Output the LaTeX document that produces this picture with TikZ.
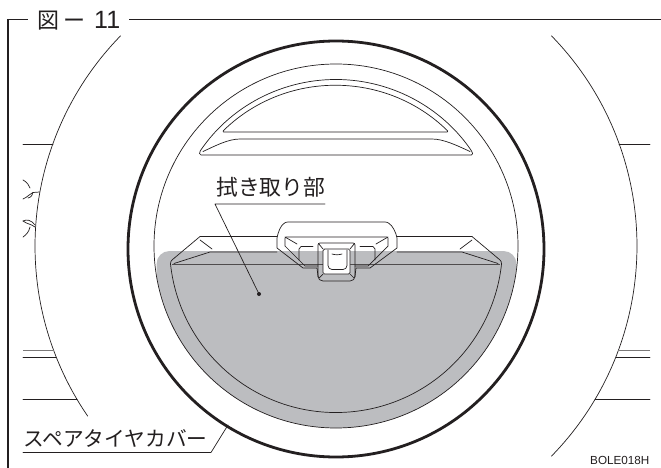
\documentclass[tikz,border=0pt]{standalone}
\usepackage{fontspec}
\setmainfont{Liberation Sans}
\newfontfamily\cjk{Noto Sans CJK JP}
\definecolor{ink}{HTML}{231F20}
\definecolor{wipe}{HTML}{BCBDC0}
\tikzset{
  thin line/.style={draw=ink,line width=.7pt,line join=round,line cap=round},
  thick ring/.style={draw=ink,line width=2.8pt},
  frame line/.style={draw=ink,line width=1.1pt},
  lab/.style={inner sep=0pt,anchor=base west,text=ink},
}
\begin{document}
\begin{tikzpicture}[x=1pt,y=1pt]
\useasboundingbox (0,0) rectangle (661,-468);
\fill[white] (0,0) rectangle (661,-468);
% frame and title
\draw[frame line] (8,-468) -- (8,-19.5) -- (28,-19.5);
\draw[frame line] (129,-19.5) -- (661,-19.5);
\node[lab] (title) at (37,-29) {\fontsize{22}{22}\selectfont\cjk 図\kern4pt ー\kern9pt\fontsize{25}{25}\selectfont\rmfamily 11};
% outer tyre arcs
\coordinate (C) at (336,-246);
\draw[thin line] (C) ++(135.7:301pt) arc[start angle=135.7,end angle=214.4,radius=301pt];
\draw[thin line] (C) ++(44.3:301pt) arc[start angle=44.3,end angle=-44.3,radius=301pt];
% stubs
\draw[thin line] (23,-144) -- (53,-144);
\draw[thin line] (619,-144) -- (650,-144);
\draw[draw=ink!60,line width=1.2pt] (23,-350.5) -- (54,-350.5);
\draw[draw=ink!60,line width=1.2pt] (618,-350.5) -- (650,-350.5);
\draw[thin line] (23,-357) -- (56,-357);
\draw[thin line] (616,-357) -- (650,-357);
\draw[thin line] (23,-399.5) -- (77,-399.5);
\draw[thin line] (595,-399.5) -- (650,-399.5);
% small marks on the left
\draw[thin line] (23,-180) .. controls (27,-182) and (29,-185) .. (30,-188);
\draw[thin line] (39.5,-192) -- (33,-192.5) .. controls (29,-194) and (28,-197) .. (23,-199);
\draw[thin line] (33,-192.5) .. controls (32,-195) and (32,-197) .. (28,-198);
\draw[thin line] (23,-221) .. controls (27,-219) and (31,-220) .. (35,-225);
\draw[thin line] (23,-221) .. controls (27,-224) and (31,-224) .. (35,-227);
\draw[thin line] (23,-237) .. controls (26,-235) and (29,-232) .. (30,-227);
% grey wipe area
\begin{scope}
\clip (336,-246) circle[radius=182pt];
\fill[wipe,rounded corners=13pt] (156.5,-251) rectangle (516.5,-440);
\end{scope}
% wheel
\draw[thick ring] (336,-249) circle[radius=208pt];
\draw[thin line] (336,-246) circle[radius=182pt];
% upper handle
\draw[thin line,rounded corners=1.5pt] (222,-132) arc[start angle=134.6,end angle=45.4,radius=161.5pt] -- cycle;
\draw[thin line,rounded corners=1.5pt] (199.5,-155) -- (199.5,-152) arc[start angle=146,end angle=34,radius=164.5pt] -- (473,-155) -- cycle;
\draw[thin line] (203,-151.5) .. controls (215,-146) and (228,-139) .. (240,-139) -- (432,-139) .. controls (444,-139) and (458,-146) .. (470,-151.5);
% lower cover
\draw[thin line] (277,-236.5) -- (212,-236.5) -- (200,-236.5) -- (172,-260) .. controls (171,-261) and (170.5,-262) .. (170.5,-264)
  arc[start angle=186.2,end angle=353.8,radius=166.5pt] .. controls (501.5,-262) and (501,-261) .. (500,-260) -- (472,-236.5) -- (397,-236.5);
\draw[thin line] (200,-240) -- (212,-249);
\draw[thin line] (472,-240) -- (460,-249);
\draw[draw=ink!80,line width=1pt] (172,-264.3) -- (500,-264.3);
\draw[thin line] (174,-263.5) -- (210,-252) -- (277,-252);
\draw[thin line] (498,-263.5) -- (462,-252) -- (397,-252);
% latch
\draw[thin line] (277,-248) -- (277,-238) .. controls (278,-232) and (281,-225) .. (284,-223.5) .. controls (285,-222.5) and (286,-222) .. (288,-222)
  -- (385,-222) .. controls (387,-222) and (388,-222.5) .. (389,-223.5) .. controls (392,-225) and (396,-232) .. (397,-238) -- (397,-248)
  -- (370,-268) -- (356,-268) -- (355,-276) .. controls (355,-279) and (353,-281) .. (350,-281)
  -- (323,-281) .. controls (320,-281) and (318,-279) .. (318,-276) -- (317,-268) -- (303,-268) -- cycle;
\draw[thin line] (285,-246) -- (285,-238) -- (286,-237) -- (387,-237) -- (388,-238) -- (388,-246) -- (368,-266) -- (355,-266);
\draw[thin line] (285,-246) -- (305,-266) -- (318,-266);
\draw[thin line] (285,-237) -- (297,-244);
\draw[thin line] (388,-237) -- (376,-244);
\draw[thin line] (299,-260) -- (299,-249) -- (301,-246.5) -- (313,-246.5);
\draw[thin line] (375,-260) -- (375,-249) -- (373,-246.5) -- (360,-246.5);
\draw[thin line,rounded corners=2pt] (318,-277) -- (318,-243) -- (355,-243) -- (355,-277);
\draw[thin line,fill=white,rounded corners=1.5pt] (323,-274) -- (323,-249) -- (350,-249) -- (350,-274) -- cycle;
\draw[thin line] (318.5,-243.5) -- (323,-249);
\draw[thin line] (354.5,-243.5) -- (350,-249);
\draw[thin line] (323,-274) -- (319,-278);
\draw[thin line] (350,-274) -- (354,-278);
\draw[thin line,rounded corners=4pt] (328,-250) -- (328,-269.5) -- (347,-269.5) -- (347,-250);
\draw[thin line] (332,-254) .. controls (335,-255) and (339,-255) .. (342,-254);
% labels
\node[lab] (wipeLabel) at (216,-195) {\fontsize{21.8}{22}\selectfont\cjk 拭き取り部};
\coordinate (wipeUL) at (215,-204);
\coordinate (wipeEnd) at (325,-204);
\coordinate (wipeDot) at (259,-294);
\draw[thin line] (wipeEnd) -- (wipeUL) -- (wipeDot);
\fill[ink] (wipeDot) circle[radius=2pt];
\node[lab] (coverLabel) at (23,-446.5) {\fontsize{20.7}{21}\selectfont\cjk スペアタイヤカバー};
\coordinate (coverUL) at (23,-452.5);
\coordinate (coverKnee) at (211,-452.5);
\coordinate (coverEnd) at (228,-425);
\draw[thin line] (coverUL) -- (coverKnee) -- (coverEnd);
\node[lab] (code) at (590,-464.5) {\fontsize{11.7}{12}\selectfont BOLE018H};
\end{tikzpicture}
\end{document}
